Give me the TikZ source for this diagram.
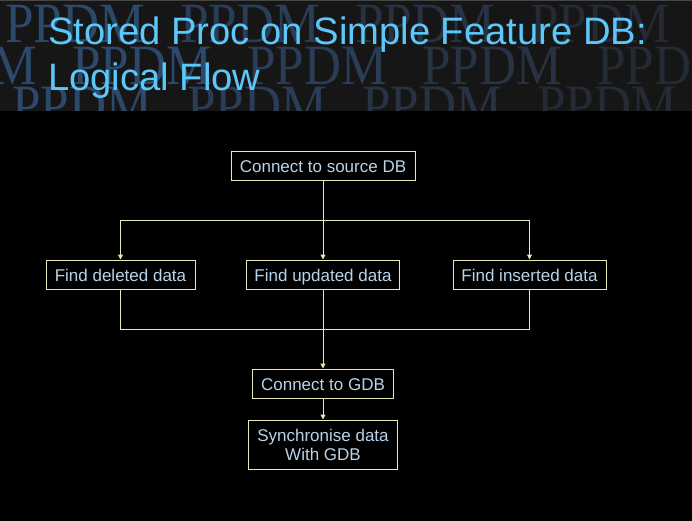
\documentclass[tikz,border=0pt]{standalone}
\usepackage{fontspec}
\setmainfont{Liberation Sans}
\newfontfamily\bannerfont{Liberation Serif}
\usetikzlibrary{arrows.meta}

\definecolor{pagebg}{RGB}{0,0,0}
\definecolor{headbg}{RGB}{22,22,22}
\definecolor{headrule}{RGB}{70,70,70}
\definecolor{titleblue}{RGB}{92,200,250}
\definecolor{boxline}{RGB}{232,232,184}
\definecolor{boxtext}{RGB}{184,212,234}
\definecolor{wm0}{RGB}{44,72,106}
\definecolor{wm1}{RGB}{41,61,87}
\definecolor{wm2}{RGB}{39,51,67}
\definecolor{wm3}{RGB}{36,43,52}
\definecolor{wm4}{RGB}{34,38,43}

\tikzset{
  flowbox/.style={draw=boxline, line width=1pt, fill=pagebg, text=boxtext,
    font=\fontsize{17}{19}\selectfont, inner sep=0pt, align=center,
    minimum height=29pt},
  oneline/.style={text height=15pt, text depth=1pt},
  link/.style={draw=boxline, line width=1pt},
  arrowlink/.style={link, -{Triangle[length=5pt,width=5pt]}},
  watermark/.style={font=\bannerfont\fontsize{57}{57}\selectfont,
    anchor=base west, inner sep=0pt, xscale=0.9},
}

\begin{document}
\begin{tikzpicture}[x=1pt,y=-1pt]
\useasboundingbox (0,0) rectangle (692,521);
\fill[pagebg] (0,0) rectangle (692,521);

% header band with the repeated PPDM watermark
\fill[headbg] (0,0) rectangle (692,111);
\begin{scope}
  \clip (0,0) rectangle (692,111);
  \foreach \k/\c in {0/wm0,1/wm1,2/wm2,3/wm3,4/wm4}{
    \node[watermark, text=\c] (wa\k) at ({5+175*\k},43) {PPDM};
    \node[watermark, text=\c] (wc\k) at ({12+175*\k},125) {PPDM};
  }
  \foreach \k/\c in {-1/wm0,0/wm0,1/wm1,2/wm2,3/wm3}{
    \node[watermark, text=\c] (wb\k) at ({72+175*\k},85) {PPDM};
  }
\end{scope}
\fill[headrule] (0,0) rectangle (692,1.5);

% title (base anchor sits on the last line)
\node[anchor=base west, inner sep=0pt, text=titleblue, align=left,
      font=\fontsize{38.2}{46}\selectfont] (title) at (48,91)
  {Stored Proc on Simple Feature DB:\\Logical Flow};

% flow boxes
\node[flowbox, oneline, minimum width=184pt] (src) at (323,166) {Connect to source DB};
\node[flowbox, oneline, minimum width=149pt] (del) at (120.5,274.5) {Find deleted data};
\node[flowbox, oneline, minimum width=153pt] (upd) at (323,274.5) {Find updated data};
\node[flowbox, oneline, minimum width=153pt] (ins) at (529.5,274.5) {Find inserted data};
\node[flowbox, oneline, minimum width=141pt] (gdb) at (323,383.5) {Connect to GDB};
\node[flowbox, minimum width=149pt, minimum height=49pt] (sync) at (323,444.5)
  {Synchronise data\\With GDB};

% connectors
\coordinate (fork) at (323,220);
\coordinate (join) at (323,329);
\draw[link] (src.south) -- (fork);
\draw[arrowlink] (fork) -| (del.north);
\draw[arrowlink] (fork) -| (ins.north);
\draw[arrowlink] (fork) -- (upd.north);
\draw[link] (del.south) |- (join);
\draw[link] (ins.south) |- (join);
\draw[arrowlink] (upd.south) -- (gdb.north);
\draw[arrowlink] (gdb.south) -- (sync.north);
\end{tikzpicture}
\end{document}
